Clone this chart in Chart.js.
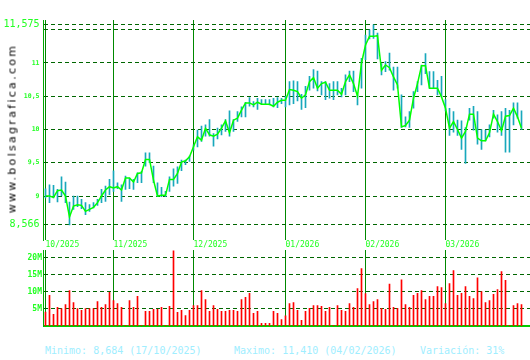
<!DOCTYPE html>
<html lang="es">
<head>
<meta charset="UTF-8">
<title>bolsagrafica</title>
<script src="https://cdn.jsdelivr.net/npm/chart.js"></script>
<style>
  body { margin: 0; background: #fff; }
  .wrap { position: relative; width: 530px; height: 360px; overflow: hidden; font-family: "DejaVu Sans Mono", monospace; }
  canvas { position: absolute; left: 0; }
  #priceChart { top: 0; }
  #volChart { top: 248px; }
  .site { position: absolute; left: -77.8px; top: 122px; width: 180px; height: 13px; line-height: 13px;
          font-family: "DejaVu Sans", sans-serif; font-size: 11px; letter-spacing: 2.3px;
          text-align: center; color: #000; transform: rotate(-90deg); }
  .info { position: absolute; top: 345px; font-size: 10px; line-height: 12px; color: #a0eeff; white-space: pre; }
</style>
</head>
<body>
<div class="wrap">
  <canvas id="priceChart" width="530" height="250"></canvas>
  <canvas id="volChart" width="530" height="80"></canvas>
  <div class="site">www.bolsagrafica.com</div>
  <div class="info" style="left:45px">Minimo: 8,684 (17/10/2025)</div>
  <div class="info" style="left:234px">Maximo: 11,410 (04/02/2026)</div>
  <div class="info" style="left:420px">Variación: 31%</div>
</div>

<script>
// daily sessions, 09/10/2025 .. 27/03/2026
const highs = [
  9.11, 9.17, 9.16, 9.10, 9.29, 9.21, 8.91, 9.00, 9.00, 8.95, 8.90, 8.87, 8.90, 8.95, 9.10, 9.15, 9.25,
  9.38, 9.20, 9.17, 9.30, 9.27, 9.25, 9.35, 9.37, 9.65, 9.65, 9.45, 9.20, 9.13, 9.07, 9.29, 9.41, 9.44, 9.54, 9.54, 9.60,
  9.77, 9.99, 10.05, 10.07, 10.15, 9.94, 10.02, 10.07, 10.15, 10.28, 10.15, 10.27, 10.34, 10.41, 10.48, 10.42, 10.47, 10.45, 10.45, 10.45, 10.47, 10.48, 10.47,
  10.50, 10.72, 10.73, 10.72, 10.53, 10.65, 10.80, 10.90, 10.88, 10.72, 10.72, 10.69, 10.72, 10.72, 10.62, 10.82, 10.88, 10.88, 10.52, 11.07,
  11.42, 11.50, 11.575, 11.45, 10.99, 11.02, 11.15, 10.94, 10.94, 10.52, 10.19, 10.27, 10.57, 10.72, 10.97, 11.14, 10.87, 10.87, 10.74, 10.80,
  10.45, 10.32, 10.27, 10.14, 10.13, 10.03, 10.32, 10.35, 10.27, 10.00, 9.99, 10.07, 10.29, 10.22, 10.27, 10.32, 10.29, 10.40, 10.40, 10.28
];
const lows = [
  8.97, 8.90, 8.97, 8.91, 9.00, 8.90, 8.566, 8.80, 8.84, 8.81, 8.72, 8.77, 8.82, 8.86, 8.90, 8.92, 9.02,
  9.07, 9.11, 8.92, 9.10, 9.11, 9.10, 9.20, 9.20, 9.45, 9.50, 9.20, 8.99, 8.99, 8.99, 9.07, 9.15, 9.19, 9.38, 9.47, 9.52,
  9.69, 9.74, 9.82, 9.90, 9.90, 9.75, 9.86, 9.92, 9.97, 9.90, 9.97, 10.12, 10.19, 10.19, 10.35, 10.34, 10.30, 10.38, 10.38, 10.37, 10.34, 10.33, 10.39,
  10.34, 10.37, 10.39, 10.43, 10.30, 10.33, 10.59, 10.62, 10.58, 10.52, 10.45, 10.47, 10.45, 10.52, 10.49, 10.52, 10.72, 10.57, 10.37, 10.62,
  11.05, 11.36, 11.37, 11.06, 10.82, 10.87, 10.89, 10.59, 10.62, 10.03, 10.04, 10.03, 10.32, 10.57, 10.67, 10.84, 10.62, 10.62, 10.52, 10.49,
  10.28, 9.91, 9.96, 9.91, 9.70, 9.49, 10.14, 9.99, 9.78, 9.70, 9.83, 9.89, 10.17, 9.96, 9.91, 9.66, 9.66, 10.07, 10.17, 10.00
];
const closes = [
  9.00, 9.00, 8.98, 9.08, 9.09, 9.00, 8.684, 8.85, 8.87, 8.86, 8.77, 8.80, 8.83, 8.90, 9.00, 9.09, 9.14,
  9.12, 9.14, 9.09, 9.27, 9.27, 9.21, 9.34, 9.35, 9.55, 9.55, 9.24, 9.00, 9.01, 9.01, 9.25, 9.25, 9.34, 9.51, 9.53, 9.59,
  9.74, 9.89, 9.84, 10.02, 9.92, 9.90, 9.93, 10.02, 10.13, 9.95, 10.14, 10.17, 10.29, 10.40, 10.40, 10.37, 10.41, 10.38, 10.38, 10.38, 10.35, 10.41, 10.44,
  10.44, 10.60, 10.59, 10.57, 10.47, 10.52, 10.72, 10.78, 10.62, 10.69, 10.71, 10.59, 10.59, 10.59, 10.53, 10.72, 10.82, 10.69, 10.50, 11.00,
  11.27, 11.40, 11.40, 11.41, 10.89, 10.97, 10.93, 10.79, 10.67, 10.04, 10.06, 10.14, 10.47, 10.69, 10.96, 10.96, 10.62, 10.62, 10.62, 10.49,
  10.32, 10.02, 10.12, 10.00, 9.87, 9.97, 10.23, 10.23, 9.87, 9.83, 9.83, 9.95, 10.23, 10.12, 9.98, 10.20, 10.21, 10.32, 10.19, 10.02
];
// volume in millions
const volumes = [
  4.1, 9.0, 3.4, 5.5, 5.1, 6.3, 10.4, 6.9, 5.1, 4.6, 5.1, 5.1, 5.1, 7.2, 5.5, 6.3, 9.9,
  7.5, 6.6, 5.5, 0.2, 7.5, 5.5, 8.7, 0.2, 4.3, 4.3, 4.9, 4.9, 5.5, 0.2, 5.8, 22.1, 4.0, 4.6, 3.1, 4.6,
  6.0, 6.0, 10.4, 7.8, 4.3, 6.0, 4.9, 4.3, 4.3, 4.6, 4.6, 4.3, 7.8, 8.4, 9.6, 3.7, 4.3, 0.8, 0.8, 0.8, 4.3, 3.7, 1.9,
  3.0, 6.6, 6.9, 4.6, 1.7, 4.3, 5.2, 6.0, 6.0, 5.8, 4.3, 5.5, 0.2, 6.0, 4.6, 4.3, 6.6, 5.5, 11.0, 16.9,
  9.5, 6.3, 7.2, 7.8, 5.2, 4.9, 12.3, 5.5, 5.2, 13.6, 6.3, 5.5, 9.0, 9.6, 10.4, 7.8, 8.7, 8.7, 11.6, 11.3,
  6.6, 12.5, 16.3, 9.0, 9.6, 11.6, 8.7, 8.1, 14.2, 10.1, 6.9, 7.5, 9.3, 10.7, 16.0, 13.4, 0.2, 6.0, 6.6, 6.3
];

const monthStart = [0, 17, 37, 60, 80, 100];
const monthText = ['10/2025', '11/2025', '12/2025', '01/2026', '02/2026', '03/2026'];
const priceTicks = [8.566, 9, 9.5, 10, 10.5, 11, 11.5, 11.575];
const priceTickText = ['8,566', '9', '9,5', '10', '10,5', '11', '', '11,575'];
const volTicks = [5, 10, 15, 20];
const volTickText = ['5M', '10M', '15M', '20M'];

const MONO = "'DejaVu Sans Mono', monospace";
const GRID_DASH = '#006600';
const MONTH_LINE = '#008800';
const AXIS_GREEN = '#00aa00';
const LABEL_GREEN = '#22ff22';

function fixBox(w, h) {
  return function (s) {
    if (w !== null) s.width = w;
    if (h !== null) s.height = h;
    s.paddingTop = s.paddingBottom = s.paddingLeft = s.paddingRight = 0;
  };
}

const monthScale = (max, showLabels, border) => ({
  type: 'linear',
  min: -0.5,
  max: max,
  offset: false,
  afterBuildTicks: s => { s.ticks = monthStart.map(v => ({ value: v })); },
  afterFit: fixBox(null, showLabels ? 10 : 2),
  grid: { color: MONTH_LINE, lineWidth: 1, drawTicks: false, offset: false },
  border: border,
  ticks: {
    display: showLabels,
    autoSkip: false,
    maxRotation: 0,
    align: 'start',
    padding: 0,
    color: LABEL_GREEN,
    font: { family: MONO, size: 8 },
    callback: v => monthText[monthStart.indexOf(v)]
  }
});

new Chart(document.getElementById('priceChart'), {
  data: {
    datasets: [
      {
        type: 'line',
        data: closes.map((c, i) => ({ x: i, y: c })),
        borderColor: '#00ff00',
        borderWidth: 1.5,
        pointRadius: 0,
        tension: 0,
        order: 0
      },
      {
        type: 'bar',
        data: highs.map((h, i) => ({ x: i, y: [lows[i], h] })),
        backgroundColor: '#18a8bc',
        barThickness: 1,
        order: 1
      }
    ]
  },
  options: {
    responsive: false,
    animation: false,
    layout: { padding: { top: 20, right: 0, bottom: 0, left: 0 } },
    plugins: { legend: { display: false }, tooltip: { enabled: false } },
    scales: {
      x: monthScale(-0.5 + 486.5 / 4, true, { display: false }),
      y: {
        min: 8.339,
        max: 11.646,
        afterBuildTicks: s => { s.ticks = priceTicks.map(v => ({ value: v })); },
        afterFit: fixBox(43.5, null),
        grid: { color: GRID_DASH, lineWidth: 1, drawTicks: false },
        border: { display: true, color: AXIS_GREEN, width: 1, dash: [4, 3] },
        ticks: {
          autoSkip: false,
          padding: 4,
          color: LABEL_GREEN,
          font: c => (c.index === 0 || c.index === priceTicks.length - 1)
            ? { family: MONO, size: 10 }
            : { family: MONO, size: 6.5, weight: 'bold' },
          callback: v => priceTickText[priceTicks.indexOf(v)]
        }
      }
    }
  }
});

new Chart(document.getElementById('volChart'), {
  type: 'bar',
  data: {
    datasets: [{
      data: volumes.map((v, i) => ({ x: i, y: v })),
      backgroundColor: '#ff0000',
      barThickness: 1
    }]
  },
  options: {
    responsive: false,
    animation: false,
    layout: { padding: { top: 2, right: 0, bottom: 0, left: 0 } },
    plugins: { legend: { display: false }, tooltip: { enabled: false } },
    scales: {
      x: monthScale(-0.5 + 486.5 / 4, false, { display: true, color: '#00cc00', width: 2 }),
      y: {
        min: 0,
        max: 22.35,
        afterBuildTicks: s => { s.ticks = volTicks.map(v => ({ value: v })); },
        afterFit: fixBox(43.5, null),
        grid: { color: GRID_DASH, lineWidth: 1, drawTicks: false },
        border: { display: true, color: AXIS_GREEN, width: 1, dash: [4, 3] },
        ticks: {
          autoSkip: false,
          padding: 1.5,
          color: LABEL_GREEN,
          font: { family: MONO, size: 8, weight: 'bold' },
          callback: v => volTickText[volTicks.indexOf(v)]
        }
      }
    }
  }
});
</script>
</body>
</html>
